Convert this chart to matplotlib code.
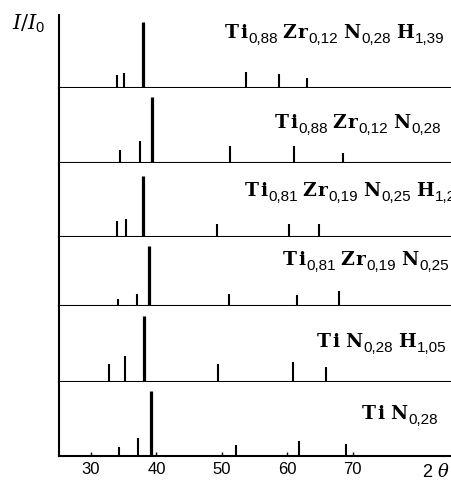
import numpy as np
import matplotlib
matplotlib.use("Agg")
import matplotlib.pyplot as plt

plt.rcParams['mathtext.fontset'] = 'custom'
plt.rcParams['mathtext.sf'] = 'Liberation Sans'
plt.rcParams['mathtext.it'] = 'DejaVu Serif:italic'
plt.rcParams['mathtext.rm'] = 'DejaVu Serif'
plt.rcParams['font.family'] = 'Liberation Sans'

W, H = 452, 482

# formulas as (element, subscript) pairs, top panel first
form1 = [('Ti', '0,88'), ('Zr', '0,12'), ('N', '0,28'), ('H', '1,39')]
form2 = [('Ti', '0,88'), ('Zr', '0,12'), ('N', '0,28')]
form3 = [('Ti', '0,81'), ('Zr', '0,19'), ('N', '0,25'), ('H', '1,2')]
form4 = [('Ti', '0,81'), ('Zr', '0,19'), ('N', '0,25')]
form5 = [('Ti', ''), ('N', '0,28'), ('H', '1,05')]
form6 = [('Ti', ''), ('N', '0,28')]
formulas = [form1, form2, form3, form4, form5, form6]

# peak positions (2 theta, deg) and relative intensities
pos1 = [33.98, 35.09, 37.9, 53.7, 58.79, 62.98]
int1 = [20, 23, 100, 24, 21, 15]
pos2 = [34.39, 37.49, 39.28, 51.21, 61.09, 68.58]
int2 = [20, 34, 100, 25, 25, 15]
pos3 = [33.98, 35.35, 37.9, 49.27, 60.28, 64.91]
int3 = [24, 28, 92, 19, 19, 19]
pos4 = [34.17, 37.03, 38.91, 51.06, 61.5, 67.97]
int4 = [11, 18, 91, 18, 17, 22]
pos5 = [32.8, 35.2, 38.15, 49.46, 60.89, 65.93]
int5 = [27, 39, 100, 28, 31, 23]
pos6 = [34.33, 37.23, 39.17, 52.17, 61.85, 68.99]
int6 = [14, 27, 98, 16, 22, 18]
positions = [pos1, pos2, pos3, pos4, pos5, pos6]
intensities = [int1, int2, int3, int4, int5, int6]
xticks = [30, 40, 50, 60, 70]

# panel heights in px, label start (x px) and baseline (y px from top)
heights = [73, 75, 74, 69, 76, 74]
lab_x0 = [225, 275, 245, 283, 317, 362]
lab_base = [38, 128, 196, 265, 347, 419]

fig = plt.figure(figsize=(W/100, H/100), dpi=100)
gs = fig.add_gridspec(6, 1, height_ratios=heights, hspace=0,
                      left=59/W, right=1.0, top=1-15/H, bottom=1-456/H)

for i in range(6):
    ax = fig.add_subplot(gs[i])
    p = np.array(positions[i])
    h = np.array(intensities[i])
    lw = np.where(h == h.max(), 2.3, 1.5)
    ax.vlines(p, 0, h, colors='black', linewidth=lw)
    ax.set_xlim(25.1, 85.2)
    ax.set_ylim(0, heights[i] / 0.66)
    ax.spines['top'].set_visible(False)
    ax.spines['right'].set_visible(False)
    ax.spines['bottom'].set_linewidth(1.5)
    ax.spines['left'].set_linewidth(1.5)
    ax.set_yticks([])
    if i < 5:
        ax.tick_params(bottom=False, labelbottom=False)
    else:
        ax.set_xticks(xticks)
        ax.tick_params(axis='x', direction='in', length=3, width=1, pad=4,
                       labelsize=12)
        ax.text(0.995, -0.216, r'$\mathsf{2}\ \theta$', transform=ax.transAxes,
                ha='right', va='center', fontsize=13)

# chemical formulas: bold serif symbols, sans subscripts, laid out piece by piece
renderer = fig.canvas.get_renderer()
el_style = dict(family='DejaVu Serif', weight='bold', size=13.5)
sub_style = dict(family='Liberation Sans', size=11)


def put(x, y, s, style):
    t = fig.text(x / W, 1 - y / H, s, ha='left', va='baseline', **style)
    return t.get_window_extent(renderer).width


for form, x, yb in zip(formulas, lab_x0, lab_base):
    for el, sub in form:
        for ch in el:
            x += put(x, yb, ch, el_style) + 1.0
        if sub:
            x += 0.5
            x += put(x, yb + 5, sub, sub_style) + 4.5
        else:
            x += 5

fig.text(12/W, 1-30/H, r'$I/I_{\mathsf{0}}$', fontsize=15,
         ha='left', va='baseline')

fig.savefig('out.png', dpi=100)
